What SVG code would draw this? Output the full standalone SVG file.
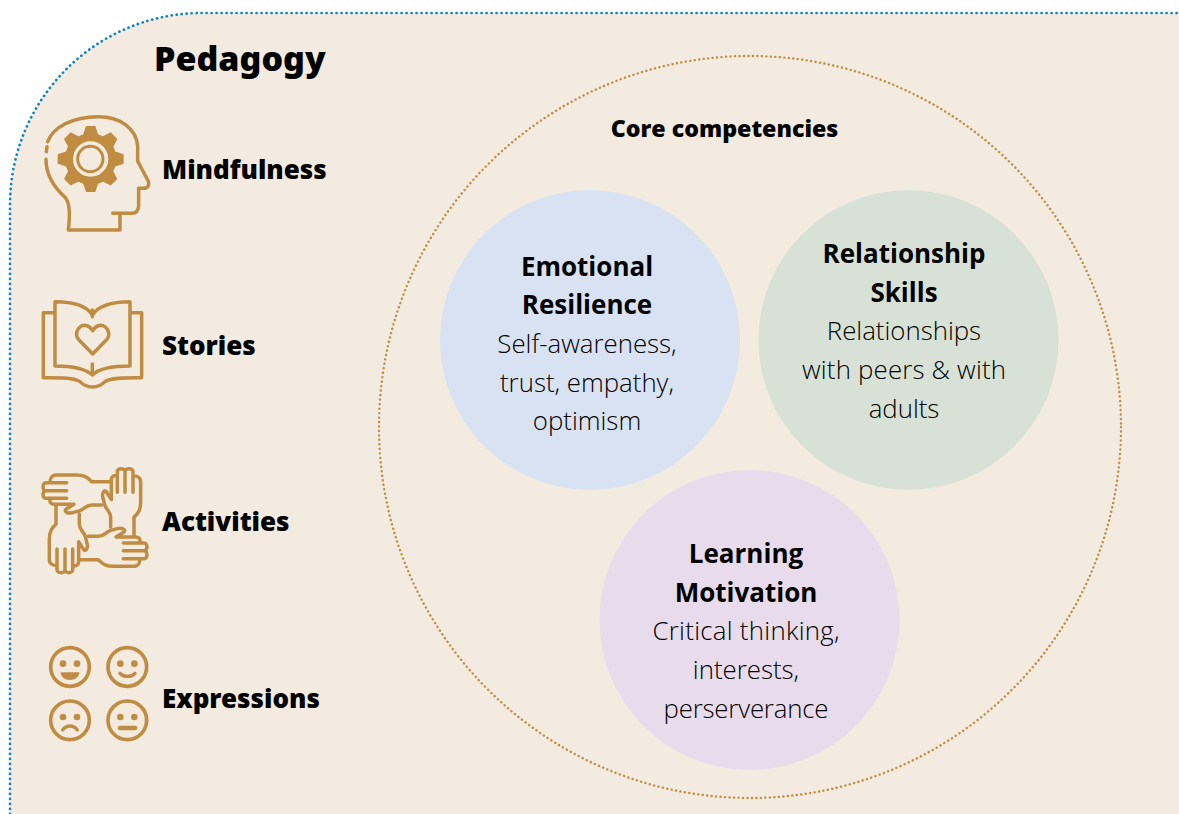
<svg xmlns="http://www.w3.org/2000/svg" width="1179" height="814" viewBox="0 0 1179 814">
<style>
text{font-family:"Open Sans","Noto Sans","Liberation Sans",sans-serif;fill:#000}
.h{font-family:"Noto Sans","Open Sans",sans-serif;font-weight:900}
.l{font-family:"Noto Sans","Open Sans",sans-serif;font-size:26px;font-weight:900}
.t{font-size:26px;font-weight:700;text-anchor:middle}
.b{font-size:25.8px;font-weight:300;text-anchor:middle}
.i{fill:none;stroke:#c08c42;stroke-width:10.5;stroke-linecap:round;stroke-linejoin:round}
.f{fill:#c08c42;stroke:none}
</style>
<defs>
<g id="hand">
<path d="M240,65H185C170,50 160,45 140,45H78C66,45 60,56 60,68M110,68H48C36,68 36,92 48,92H110M48,92C36,92 36,115 48,115H110M60,115C58,125 62,133 72,133H132L108,148C100,155 115,162 128,158L150,152C165,145 170,135 185,135H215"/>
</g>
<path id="tooth" d="M258,378H286L298,415H246Z"/>
</defs>
<g id="panel"><path d="M10,814V205A192,192 0 0 1 202,13H1179V814Z" fill="#f3ebe0"/><path d="M10,814V205A192,192 0 0 1 202,13H1179" fill="none" stroke="#0b83c6" stroke-width="2.7" stroke-dasharray="0.1 4.9" stroke-linecap="round"/></g>
<g id="pedagogy-title"><text class="h" x="154" y="71" font-size="34">Pedagogy</text></g>
<g id="mindfulness">
<g transform="scale(0.3333)">
<path class="i" d="M139,455L141,440M138,478C138,530 165,565 195,592C212,610 210,650 205,690H360V640M338,640H395C410,640 416,630 416,615V565H430C445,565 450,552 443,540L413,483V440C410,385 360,350 295,350C220,350 160,380 143,425"/>
<g class="f">
<use href="#tooth"/><use href="#tooth" transform="rotate(45 272 477)"/><use href="#tooth" transform="rotate(90 272 477)"/><use href="#tooth" transform="rotate(135 272 477)"/><use href="#tooth" transform="rotate(180 272 477)"/><use href="#tooth" transform="rotate(225 272 477)"/><use href="#tooth" transform="rotate(270 272 477)"/><use href="#tooth" transform="rotate(315 272 477)"/>
</g>
<circle cx="272" cy="477" r="65" fill="none" stroke="#c08c42" stroke-width="24"/>
<circle cx="271" cy="477" r="38" fill="none" stroke="#c08c42" stroke-width="9"/>
</g>
<text class="l" x="162" y="179">Mindfulness</text>
</g>
<g id="stories">
<g transform="translate(30,290) scale(0.3333)">
<path class="i" d="M187,75C170,47 130,35 75,35V228C120,228 165,235 187,255C207,235 250,228 300,228V35C250,35 205,47 187,75ZM187,60V80M187,222V255M75,68H40V263C90,263 130,262 150,275C170,296 205,296 225,275C240,262 290,263 335,263V68H300"/>
<path class="i" d="M188,192L145,148C125,120 165,85 188,122C211,85 251,120 231,148Z"/>
</g>
<text class="l" x="162" y="355">Stories</text>
</g>
<g id="activities">
<g transform="translate(30,460) scale(0.3333)" class="i">
<use href="#hand"/>
<use href="#hand" transform="rotate(90 195 182)"/>
<use href="#hand" transform="rotate(180 195 182)"/>
<use href="#hand" transform="rotate(270 195 182)"/>
</g>
<text class="l" x="162" y="531">Activities</text>
</g>
<g id="expressions">
<g transform="translate(40,640) scale(0.3333)">
<g fill="none" stroke="#c08c42" stroke-width="11">
<circle cx="90" cy="81" r="58"/><circle cx="262" cy="81" r="58"/><circle cx="90" cy="241" r="58"/><circle cx="262" cy="241" r="58"/>
</g>
<g class="f">
<circle cx="69" cy="71" r="10"/><circle cx="111" cy="71" r="10"/><path d="M62,97H118C118,112 105,120 90,120C75,120 62,112 62,97Z"/>
<circle cx="241" cy="71" r="10"/><circle cx="283" cy="71" r="10"/>
<circle cx="69" cy="231" r="10"/><circle cx="111" cy="231" r="10"/>
<circle cx="241" cy="231" r="10"/><circle cx="283" cy="231" r="10"/>
</g>
<g fill="none" stroke="#c08c42" stroke-width="10" stroke-linecap="round">
<path d="M240,100C250,112 275,112 285,100"/>
<path d="M68,270C80,254 100,254 112,270"/>
<path d="M240,264H285" stroke-width="14"/>
</g>
</g>
<text class="l" x="162" y="708">Expressions</text>
</g>
<g id="core">
<circle cx="750" cy="427" r="371" fill="none" stroke="#c08c42" stroke-width="2.4" stroke-dasharray="0.1 4.4" stroke-linecap="round"/>
<text x="724.5" y="137" font-size="23.2" font-weight="800" text-anchor="middle">Core competencies</text>
</g>
<g id="emotional-resilience">
<circle cx="590" cy="340" r="150" fill="#d9e2f2"/>
<text class="t" x="587" y="276">Emotional</text><text class="t" x="587" y="314">Resilience</text>
<text class="b" x="587" y="353">Self-awareness,</text><text class="b" x="587" y="392">trust, empathy,</text><text class="b" x="587" y="430">optimism</text>
</g>
<g id="relationship-skills">
<circle cx="908.5" cy="340" r="150" fill="#d8e1d6"/>
<text class="t" x="904" y="263">Relationship</text><text class="t" x="904" y="302">Skills</text>
<text class="b" x="904" y="340">Relationships</text><text class="b" x="904" y="379" textLength="204">with peers &amp; with</text><text class="b" x="904" y="418">adults</text>
</g>
<g id="learning-motivation">
<circle cx="749.5" cy="620" r="150" fill="#e7dbec"/>
<text class="t" x="746" y="563">Learning</text><text class="t" x="746" y="602">Motivation</text>
<text class="b" x="746" y="640" textLength="187">Critical thinking,</text><text class="b" x="746" y="679">interests,</text><text class="b" x="746" y="718" textLength="165">perserverance</text>
</g>
</svg>
